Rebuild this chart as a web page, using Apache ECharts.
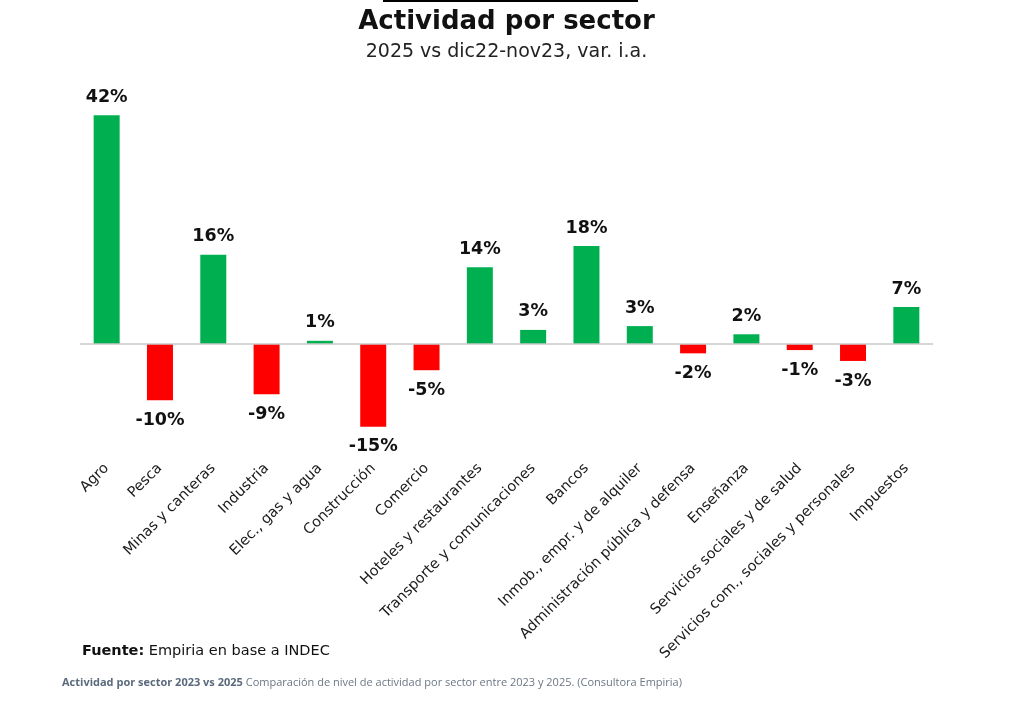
<!DOCTYPE html>
<html><head><meta charset="utf-8">
<script src="https://cdn.jsdelivr.net/npm/echarts@6/dist/echarts.min.js"></script>
<style>html,body{margin:0;padding:0;background:#fff}#c{width:1013px;height:705px}</style>
</head><body><div id="c"></div>
<script>
const categories = ["Agro","Pesca","Minas y canteras","Industria","Elec., gas y agua","Construcción","Comercio","Hoteles y restaurantes","Transporte y comunicaciones","Bancos","Inmob., empr. y de alquiler","Administración pública y defensa","Enseñanza","Servicios sociales y de salud","Servicios com., sociales y personales","Impuestos"];
const values = [42, -10.3, 16.4, -9.2, 0.6, -15.2, -4.8, 14.1, 2.6, 18, 3.3, -1.7, 1.8, -1.1, -3.1, 6.8];
const posColor = "#00b050";
const negColor = "#ff0000";

const chart = echarts.init(document.getElementById('c'));
const font = "Verdana, 'DejaVu Sans', sans-serif";
chart.setOption({
  animation:false,
  backgroundColor:'#fff',
  title:[
    {text:'Actividad por sector', left:'center', top:4, textStyle:{fontFamily:font, fontWeight:'bold', fontSize:26, color:'#111'}},
    {text:'2025 vs dic22-nov23, var. i.a.', left:'center', top:38, textStyle:{fontFamily:font, fontWeight:'normal', fontSize:19, color:'#222'}}
  ],
  graphic:[
    {type:'rect', shape:{x:383,y:0,width:255,height:2}, style:{fill:'#000'}},
    {type:'text', left:82, top:644, style:{text:'{b|Fuente:} Empiria en base a INDEC', fontFamily:font, fontSize:14.5, fill:'#111', rich:{b:{fontWeight:'bold', fontFamily:font, fontSize:14.5, fill:'#111'}}}},
    {type:'text', left:62, top:677, style:{text:'{b|Actividad por sector 2023 vs 2025} Comparación de nivel de actividad por sector entre 2023 y 2025. (Consultora Empiria)', fontFamily:"'Open Sans', sans-serif", fontSize:11, fill:'#6b7785', rich:{b:{fontWeight:'bold', fontFamily:"'Open Sans', sans-serif", fontSize:11, fill:'#5a6a7c'}}}}
  ],
  grid:{left:80, right:80, top:99, height:354},
  xAxis:{type:'category', data:categories, axisLine:{show:false, onZero:false}, axisTick:{show:false},
    axisLabel:{rotate:45, interval:0, margin:13, fontFamily:font, fontSize:14.5, color:'#1a1a1a'}},
  yAxis:{type:'value', min:-20, max:45, show:false, splitLine:{show:false}},
  series:[{
    type:'bar', barWidth:26,
    data: values.map(v=>({value:v, itemStyle:{color: v>=0?posColor:negColor},
      label:{position: v>=0?'top':'bottom', distance: v>=0?9:11}})),
    label:{show:true, fontFamily:font, fontWeight:'bold', fontSize:17.5, color:'#111',
      formatter:p=>Math.round(p.value)+'%'},
    markLine:{silent:true, symbol:'none', label:{show:false}, lineStyle:{color:'#c8c8c8', width:1.5, type:'solid'}, data:[{yAxis:0}]}
  }]
});
</script></body></html>
